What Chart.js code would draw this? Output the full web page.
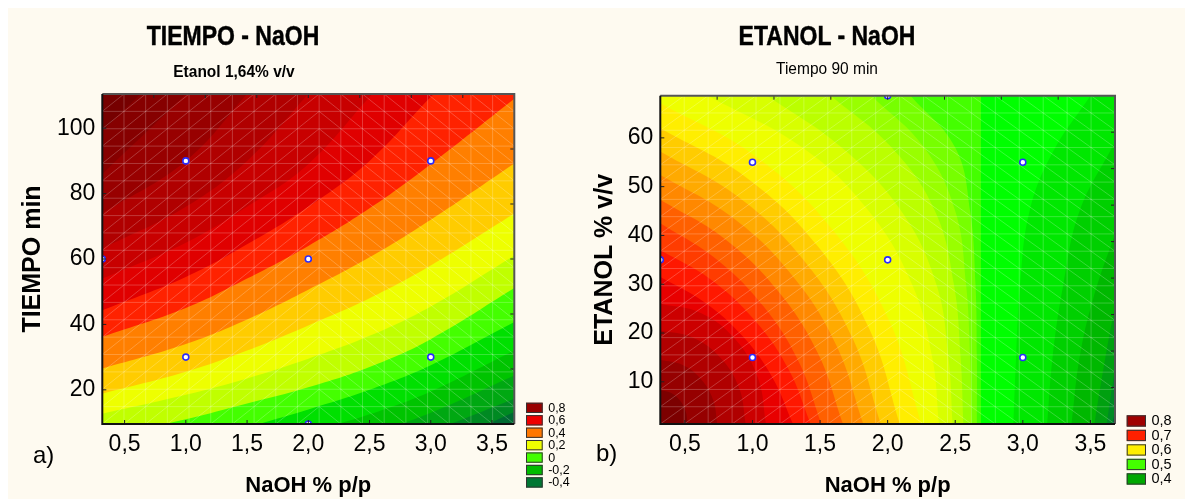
<!DOCTYPE html>
<html>
<head>
<meta charset="utf-8">
<script src="https://cdn.jsdelivr.net/npm/chart.js@4.4.1/dist/chart.umd.min.js"></script>
<style>
  html, body { margin: 0; padding: 0; background: #fff; }
  #page { position: absolute; left: 8px; top: 8px; width: 1177px; height: 491px; background: #fefaf0; }
  .box { position: absolute; top: 0; height: 499px; }
  #boxA { left: 0; width: 592px; }
  #boxB { left: 590px; width: 595px; }
  .txt { position: absolute; font-family: 'Liberation Sans', Arial, sans-serif; color: #000;
         white-space: nowrap; line-height: 1; }
  .head { font-size: 23px; font-weight: bold; -webkit-text-stroke: 0.4px #000;
          transform: translateX(-50%) scaleY(1.2); }
  .sub { font-size: 15.5px; transform: translateX(-50%) scaleY(1.1); }
  .tag { font-size: 24px; }
</style>
</head>
<body>
<div id="page"></div>
<div class="box" id="boxA"><canvas id="chartA" width="592" height="499"></canvas></div>
<div class="box" id="boxB"><canvas id="chartB" width="595" height="499"></canvas></div>

<div class="txt head" style="left:233px; top:24px;">TIEMPO - NaOH</div>
<div class="txt sub" style="left:234px; top:63px; font-weight:bold;">Etanol 1,64% v/v</div>
<div class="txt head" style="left:827px; top:24px;">ETANOL - NaOH</div>
<div class="txt sub" style="left:827px; top:60px;">Tiempo 90 min</div>
<div class="txt tag" style="left:33px; top:443px;">a)</div>
<div class="txt tag" style="left:596px; top:441px;">b)</div>

<script>
Chart.defaults.font.family = "'Liberation Sans', Arial, Helvetica, sans-serif";
Chart.defaults.color = '#000';

// shared NaOH axis
const naohRange = [0.318, 3.682];
const naohTicks = [0.5, 1.0, 1.5, 2.0, 2.5, 3.0, 3.5];

// ---- a) TIEMPO vs NaOH
const tiempoRange = [9.55, 110.45];
const tiempoTicks = [20, 40, 60, 80, 100];
const pointsA = [[1, 90], [3, 90], [2, 60], [1, 30], [3, 30], [0.318, 60], [2, 9.55]];
// band colours, lowest level first
const bandsA = ['#006a32', '#008a22', '#00a812', '#00c400', '#00e000', '#44ff00', '#c0ff00',
  '#eeff00', '#ffcc00', '#ff7f00', '#ff2200', '#e00000', '#c80000', '#b00000', '#980000',
  '#860000', '#760000'];
// iso-lines: TIEMPO value at each NaOH column
const colsA = [0.318, 1.0, 1.5, 2.0, 2.5, 3.0, 3.682];
const isoA = [
  [-40, -28, -18, -10, -3, 2, 13.2],
  [-30, -20, -12, -5, 1, 7.3, 17.3],
  [-20, -11, -4, 2, 6.5, 13, 24.4],
  [-12, -4, 1.5, 7, 12.5, 19.5, 32],
  [-4, 3, 8.5, 14, 20, 27.5, 40.7],
  [5.5, 11, 15.8, 20.8, 27, 35.5, 51.1],
  [12.7, 18.5, 23.5, 29.5, 36.5, 45.5, 61.1],
  [18.8, 25.5, 32, 39.7, 48, 58, 73.9],
  [26.5, 34, 41.5, 50.6, 60.5, 72, 89.2],
  [36.2, 45, 54, 64, 75.5, 89, 109],
  [44.3, 54.5, 64.5, 76, 90, 109.5, 135],
  [54, 65, 76, 89, 109.5, 130, 160],
  [63.2, 76, 90, 110.5, 132, 155, 190],
  [74, 90, 110.5, 132, 155, 180, 215],
  [86, 110.5, 130, 152, 175, 200, 230],
  [99, 125, 150, 175, 200, 225, 255]
];
const legendA = [0.8, 0.6, 0.4, 0.2, 0, -0.2, -0.4];
const legendColorsA = ['#990000', '#ee0000', '#ff7700', '#eeff00', '#44ff00', '#00bb00', '#007733'];

// ---- b) ETANOL vs NaOH
const etanolRange = [1.36, 68.64];
const etanolTicks = [10, 20, 30, 40, 50, 60];
const pointsB = [[1, 55], [3, 55], [2, 35], [1, 15], [3, 15], [0.318, 35], [2, 68.64]];
const bandsB = ['#006a35', '#008a25', '#00a010', '#00b800', '#00d000', '#00e800', '#00ff00',
  '#44ff00', '#77ff00', '#99ff00', '#bbff00', '#d8ff00', '#eeff00', '#ffee00', '#ffcc00',
  '#ffaa00', '#ff8800', '#ff6000', '#ff3c00', '#ff1800', '#e80000', '#cc0000', '#b00000',
  '#960000', '#7c0000'];
// iso-lines as [NaOH, ETANOL] pairs, bottom edge upwards
const isoB = [
  [[3.66, 1.36], [3.7, 6], [3.9, 30], [4.2, 68.64]],
  [[3.62, 1.36], [3.68, 12], [3.85, 35], [4.1, 68.64]],
  [[3.53, 1.36], [3.58, 10], [3.68, 25], [3.85, 45], [4.1, 68.64]],
  [[3.36, 1.36], [3.42, 15], [3.52, 27], [3.68, 40], [3.9, 55], [4.1, 68.64]],
  [[3.18, 1.36], [3.22, 15], [3.3, 30], [3.42, 45], [3.68, 59.1], [3.85, 68.64]],
  [[2.93, 1.36], [2.95, 15], [2.98, 30], [3.05, 45], [3.22, 57], [3.5, 68.64]],
  [[2.69, 1.36], [2.69, 30], [2.69, 68.64]],
  [[2.66, 1.36], [2.66, 15], [2.65, 30], [2.61, 45], [2.5, 58], [2.17, 68.64]],
  [[2.62, 1.36], [2.61, 15], [2.58, 30], [2.5, 45], [2.27, 58], [1.88, 68.64]],
  [[2.56, 1.36], [2.54, 15], [2.49, 30], [2.35, 45], [2.03, 58], [1.58, 68.64]],
  [[2.48, 1.36], [2.45, 15], [2.36, 30], [2.1, 45], [1.66, 58], [1.11, 68.64]],
  [[2.38, 1.36], [2.33, 15], [2.18, 30], [1.86, 45], [1.37, 58], [0.67, 68.64]],
  [[2.25, 1.36], [2.013, 22.45], [1.591, 41.22], [1.014, 56.4], [0.318, 67.1]],
  [[2.09, 1.36], [1.867, 20.66], [1.48, 37.87], [0.953, 51.9], [0.318, 61.95]],
  [[1.95, 1.36], [1.739, 19.04], [1.382, 34.84], [0.898, 47.83], [0.318, 57.2]],
  [[1.82, 1.36], [1.62, 17.51], [1.291, 31.89], [0.848, 43.76], [0.318, 52.4]],
  [[1.67, 1.36], [1.485, 15.79], [1.186, 28.7], [0.79, 39.39], [0.318, 47.3]],
  [[1.51, 1.36], [1.342, 14.13], [1.078, 25.58], [0.731, 35.19], [0.318, 42.5]],
  [[1.43, 1.36], [1.266, 12.61], [1.016, 22.61], [0.696, 30.87], [0.318, 37.0]],
  [[1.3, 1.36], [1.147, 10.91], [0.926, 19.37], [0.645, 26.32], [0.318, 31.5]],
  [[1.1, 1.36], [1.041, 10.8], [0.871, 18.78], [0.618, 24.13], [0.318, 26.0]],
  [[0.95, 1.36], [0.902, 8.69], [0.765, 14.89], [0.56, 19.05], [0.318, 20.5]],
  [[0.74, 1.36], [0.708, 6.39], [0.616, 10.65], [0.48, 13.5], [0.318, 14.5]],
  [[0.52, 1.36], [0.505, 4.02], [0.461, 6.27], [0.395, 7.77], [0.318, 8.3]]
];
const legendB = [0.8, 0.7, 0.6, 0.5, 0.4];
const legendColorsB = ['#a00000', '#ff2000', '#ffee00', '#44ff00', '#00a800'];

const comma = v => String(v).replace('.', ',');

// plot background, wire mesh, frame, inward ticks and the level key
const surface = {
  id: 'surface',
  beforeDatasetsDraw(chart, args, o) {
    const {ctx, chartArea: a} = chart;
    ctx.save();
    ctx.fillStyle = o.base;
    ctx.fillRect(a.left, a.top, a.width, a.height);
    ctx.restore();
  },
  beforeDatasetDraw(chart, args, o) {
    if (args.meta.type !== 'scatter') return;
    const {ctx, chartArea: a, scales: {x, y}} = chart;
    const n = o.cells;
    const xs = [], ys = [];
    for (let i = 0; i <= n; i++) {
      xs.push(x.getPixelForValue(x.min + (x.max - x.min) * i / n));
      ys.push(y.getPixelForValue(y.min + (y.max - y.min) * i / n));
    }
    ctx.save();
    ctx.beginPath();
    ctx.rect(a.left, a.top, a.width, a.height);
    ctx.clip();
    ctx.strokeStyle = 'rgba(255,255,255,0.22)';
    ctx.lineWidth = 1;
    ctx.beginPath();
    for (let i = 0; i <= n; i++) {
      ctx.moveTo(xs[i], a.top); ctx.lineTo(xs[i], a.bottom);
      ctx.moveTo(a.left, ys[i]); ctx.lineTo(a.right, ys[i]);
    }
    for (let i = 0; i < n; i++) {
      for (let j = 0; j < n; j++) {
        if (i < n / 2) { ctx.moveTo(xs[i], ys[j]); ctx.lineTo(xs[i + 1], ys[j + 1]); }
        else { ctx.moveTo(xs[i], ys[j + 1]); ctx.lineTo(xs[i + 1], ys[j]); }
      }
    }
    ctx.stroke();
    ctx.restore();
  },
  afterDraw(chart, args, o) {
    const {ctx, chartArea: a, scales: {x, y}} = chart;
    ctx.save();
    // inward tick marks
    ctx.strokeStyle = '#222';
    ctx.lineWidth = 1;
    ctx.beginPath();
    x.ticks.forEach(t => { const p = x.getPixelForValue(t.value); ctx.moveTo(p, a.bottom); ctx.lineTo(p, a.bottom - 4); });
    y.ticks.forEach(t => { const p = y.getPixelForValue(t.value); ctx.moveTo(a.left, p); ctx.lineTo(a.left + 4, p); });
    for (let i = 1; i < o.topDiv; i++) { const p = a.left + a.width * i / o.topDiv; ctx.moveTo(p, a.top); ctx.lineTo(p, a.top + 4); }
    for (let i = 1; i < o.rightDiv; i++) { const p = a.top + a.height * i / o.rightDiv; ctx.moveTo(a.right, p); ctx.lineTo(a.right - 4, p); }
    ctx.stroke();
    // frame
    ctx.lineWidth = 2;
    ctx.strokeStyle = '#555';
    ctx.beginPath();
    ctx.moveTo(a.left, a.top); ctx.lineTo(a.right, a.top); ctx.lineTo(a.right, a.bottom);
    ctx.stroke();
    ctx.strokeStyle = '#111';
    ctx.beginPath();
    ctx.moveTo(a.left, a.top); ctx.lineTo(a.left, a.bottom); ctx.lineTo(a.right, a.bottom);
    ctx.stroke();
    // level key
    const k = o.key;
    ctx.font = k.font + "px 'Liberation Sans', Arial, sans-serif";
    ctx.textBaseline = 'middle';
    k.levels.forEach((lv, i) => {
      const bx = a.right + k.dx, by = k.top + i * k.step;
      ctx.fillStyle = k.colors[i];
      ctx.fillRect(bx, by, k.w, k.h);
      ctx.strokeStyle = '#333';
      ctx.lineWidth = 1;
      ctx.strokeRect(bx + 0.5, by + 0.5, k.w - 1, k.h - 1);
      ctx.fillStyle = '#000';
      ctx.fillText(comma(lv), bx + k.w + k.gap, by + k.h / 2 + 0.5);
    });
    ctx.restore();
  }
};

function isoSets(lines, bands, toPair, axis, target) {
  return lines.map((line, k) => ({
    type: 'line',
    indexAxis: axis,
    data: toPair(line),
    fill: target,
    backgroundColor: bands[k + 1],
    borderColor: 'rgba(0,0,0,0)',
    borderWidth: 0,
    pointRadius: 0,
    tension: 0.4,
    order: lines.length - k
  }));
}

function designSet(pts) {
  return {
    type: 'scatter',
    data: pts.map(([x, y]) => ({x, y})),
    pointRadius: 3,
    pointBorderWidth: 1.6,
    pointBorderColor: '#2a2aff',
    pointBackgroundColor: '#ffffff',
    clip: 0,
    order: 0
  };
}

function axes(yRange, yTicks, yTitle, yTitlePad, yWidth) {
  return {
    x: {
      type: 'linear', min: naohRange[0], max: naohRange[1],
      afterBuildTicks: s => { s.ticks = naohTicks.map(v => ({value: v})); },
      afterFit: s => { s.height = 75; },
      grid: {display: false, drawTicks: false},
      border: {display: false},
      ticks: {callback: v => v.toFixed(1).replace('.', ','), font: {size: 23}, color: '#000',
        padding: 7, maxRotation: 0, autoSkip: false},
      title: {display: true, text: 'NaOH % p/p', font: {size: 22, weight: 'bold'}, color: '#000',
        padding: {top: 0, bottom: 0}}
    },
    y: {
      type: 'linear', min: yRange[0], max: yRange[1],
      afterBuildTicks: s => { s.ticks = yTicks.map(v => ({value: v})); },
      afterFit: s => { s.width = yWidth; },
      grid: {display: false, drawTicks: false},
      border: {display: false},
      ticks: {font: {size: 23}, color: '#000', padding: 7, autoSkip: false},
      title: {display: true, text: yTitle, font: {size: 25, weight: 'bold'}, color: '#000',
        padding: {top: yTitlePad, bottom: 0}}
    }
  };
}

new Chart(document.getElementById('chartA'), {
  type: 'line',
  data: {
    datasets: [designSet(pointsA)].concat(
      isoSets(isoA, bandsA, row => colsA.map((x, i) => ({x, y: row[i]})), 'x', 'end'))
  },
  options: {
    responsive: false,
    animation: false,
    events: [],
    layout: {padding: {left: 0, top: 94, right: 77.7, bottom: 0}},
    scales: axes(tiempoRange, tiempoTicks, 'TIEMPO min', 18, 102.3),
    plugins: {
      legend: {display: false},
      tooltip: {enabled: false},
      surface: {base: bandsA[0], cells: 19, topDiv: 8, rightDiv: 6,
        key: {levels: legendA, colors: legendColorsA, dx: 11.7, top: 402.7, w: 16.7, h: 10.3,
          step: 12.43, font: 12.5, gap: 5.5}}
    }
  },
  plugins: [surface]
});

new Chart(document.getElementById('chartB'), {
  type: 'line',
  data: {
    datasets: [designSet(pointsB)].concat(
      isoSets(isoB, bandsB, line => line.map(([x, y]) => ({x, y})), 'y', {value: naohRange[0]}))
  },
  options: {
    responsive: false,
    animation: false,
    events: [],
    layout: {padding: {left: 0, top: 95.7, right: 70, bottom: 0}},
    scales: axes(etanolRange, etanolTicks, 'ETANOL % v/v', 0, 70.3),
    plugins: {
      legend: {display: false},
      tooltip: {enabled: false},
      surface: {base: bandsB[0], cells: 19, topDiv: 8, rightDiv: 9,
        key: {levels: legendB, colors: legendColorsB, dx: 11.7, top: 415.3, w: 19.3, h: 11.3,
          step: 14.5, font: 14.5, gap: 5.5}}
    }
  },
  plugins: [surface]
});
</script>
</body>
</html>
